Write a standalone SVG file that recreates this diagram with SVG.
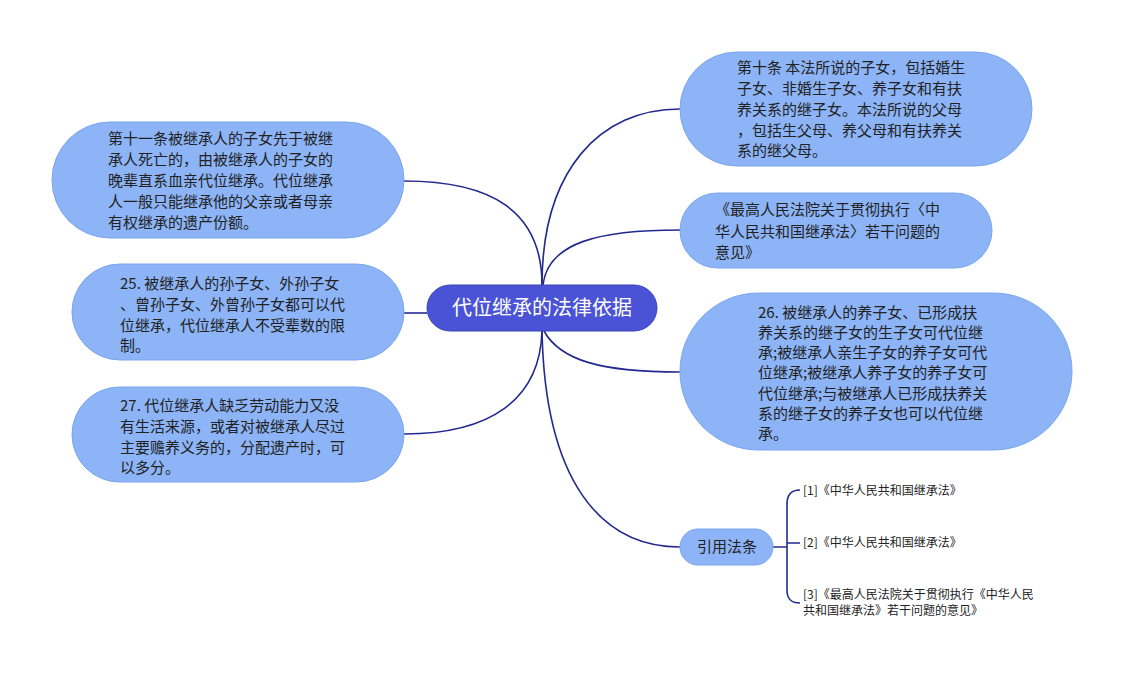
<svg xmlns="http://www.w3.org/2000/svg" width="1124" height="675" viewBox="0 0 1124 675">
<style>
.n{fill:#8cb4f7;stroke:#7aa5ee;stroke-width:1}
.c{fill:#4a53d6;stroke:#3b43b8;stroke-width:1}
.t{font-family:"Microsoft YaHei","Noto Sans CJK SC","Noto Sans",sans-serif;font-size:15px;fill:#222}
.w{font-family:"Microsoft YaHei","Noto Sans CJK SC","Noto Sans",sans-serif;font-size:20px;fill:#fff}
.r{font-family:"Microsoft YaHei","Noto Sans CJK SC","Noto Sans",sans-serif;font-size:12px;fill:#222}
.l{fill:none;stroke:#232a8e;stroke-width:1.6}
</style>
<rect width="1124" height="675" fill="#fff"/>
<g id="connectors">
<path class="l" d="M404,181 C490,181 542,210 542,285"/>
<path class="l" d="M404,313 L427,313"/>
<path class="l" d="M404,434 C490,434 540,400 542,331"/>
<path class="l" d="M542,285 C542,170 600,109 680,109"/>
<path class="l" d="M543,285 C548,242 600,230 680,230"/>
<path class="l" d="M544,331 C560,360 600,372 680,372"/>
<path class="l" d="M542,331 C545,480 600,547 680,547"/>
<path class="l" d="M773,547 L787,547 M800,490 C790,490 787,496 787,504 L787,590 C787,598 790,603 800,603 M787,543 L800,543"/>
</g>
<g id="root">
<rect class="c" x="427" y="285" width="230" height="46" rx="23"/>
<text class="w" x="542" y="315" text-anchor="middle">代位继承的法律依据</text>
</g>
<g id="node-l1">
<rect class="n" x="52" y="122" width="352" height="116" rx="58"/>
<text class="t"><tspan x="108" y="144">第十一条被继承人的子女先于被继</tspan><tspan x="108" y="165">承人死亡的，由被继承人的子女的</tspan><tspan x="108" y="186">晚辈直系血亲代位继承。代位继承</tspan><tspan x="108" y="207">人一般只能继承他的父亲或者母亲</tspan><tspan x="108" y="228">有权继承的遗产份额。</tspan></text>
</g>
<g id="node-l2">
<rect class="n" x="72" y="264" width="332" height="96" rx="48"/>
<text class="t"><tspan x="120" y="289">25. 被继承人的孙子女、外孙子女</tspan><tspan x="120" y="310">、曾孙子女、外曾孙子女都可以代</tspan><tspan x="120" y="331">位继承，代位继承人不受辈数的限</tspan><tspan x="120" y="351">制。</tspan></text>
</g>
<g id="node-l3">
<rect class="n" x="72" y="387" width="332" height="95" rx="47.5"/>
<text class="t"><tspan x="120" y="411">27. 代位继承人缺乏劳动能力又没</tspan><tspan x="120" y="432">有生活来源，或者对被继承人尽过</tspan><tspan x="120" y="453">主要赡养义务的，分配遗产时，可</tspan><tspan x="120" y="473">以多分。</tspan></text>
</g>
<g id="node-r1">
<rect class="n" x="680" y="52" width="352" height="114" rx="57"/>
<text class="t"><tspan x="737" y="73">第十条 本法所说的子女，包括婚生</tspan><tspan x="737" y="94">子女、非婚生子女、养子女和有扶</tspan><tspan x="737" y="115">养关系的继子女。本法所说的父母</tspan><tspan x="737" y="136">，包括生父母、养父母和有扶养关</tspan><tspan x="737" y="156">系的继父母。</tspan></text>
</g>
<g id="node-r2">
<rect class="n" x="680" y="193" width="312" height="75" rx="37.5"/>
<text class="t"><tspan x="715" y="215">《最高人民法院关于贯彻执行〈中</tspan><tspan x="715" y="237">华人民共和国继承法〉若干问题的</tspan><tspan x="715" y="258">意见》</tspan></text>
</g>
<g id="node-r3">
<rect class="n" x="680" y="293" width="392" height="157" rx="78.5"/>
<text class="t"><tspan x="758" y="318">26. 被继承人的养子女、已形成扶</tspan><tspan x="758" y="338">养关系的继子女的生子女可代位继</tspan><tspan x="758" y="358">承;被继承人亲生子女的养子女可代</tspan><tspan x="758" y="378">位继承;被继承人养子女的养子女可</tspan><tspan x="758" y="399">代位继承;与被继承人已形成扶养关</tspan><tspan x="758" y="419">系的继子女的养子女也可以代位继</tspan><tspan x="758" y="439">承。</tspan></text>
</g>
<g id="node-refs">
<rect class="n" x="680" y="529" width="93" height="36" rx="18"/>
<text class="t" x="727" y="552" text-anchor="middle">引用法条</text>
</g>
<g id="ref-1"><text class="r" x="803" y="495">[1]《中华人民共和国继承法》</text></g>
<g id="ref-2"><text class="r" x="803" y="547">[2]《中华人民共和国继承法》</text></g>
<g id="ref-3"><text class="r"><tspan x="803" y="599">[3]《最高人民法院关于贯彻执行《中华人民</tspan><tspan x="803" y="615">共和国继承法》若干问题的意见》</tspan></text></g>
</svg>
